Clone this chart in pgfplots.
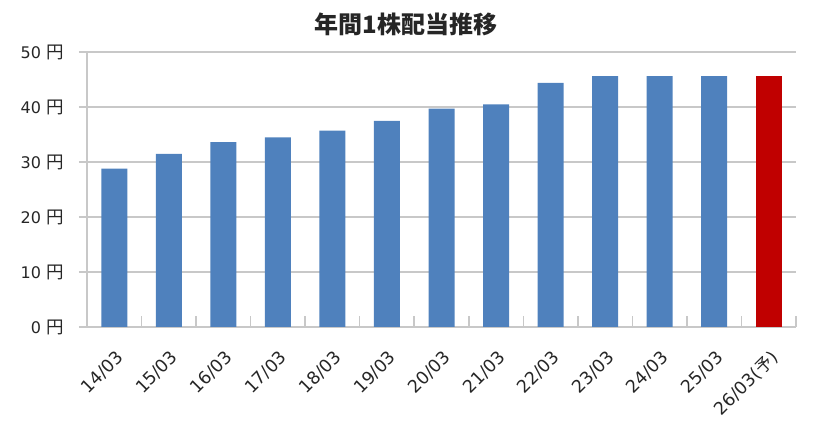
\documentclass[border=0pt]{standalone}
\usepackage{fontspec}
\setmainfont{DejaVu Sans}
\newfontfamily\cjk{Noto Sans CJK JP}
\usepackage{pgfplots}
\pgfplotsset{compat=1.18}
\definecolor{barblue}{HTML}{4F81BD}
\definecolor{barred}{HTML}{C00000}
\definecolor{gridgray}{HTML}{C8C8C8}
\definecolor{txt}{HTML}{262626}
\newcommand{\yen}{\hspace{6pt}{\cjk\fontsize{17.5}{17.5}\selectfont 円}}
\begin{document}
\begin{tikzpicture}
\path[use as bounding box] (-87pt,-106pt) rectangle (730pt,327pt);
\begin{axis}[
  scale only axis, width=709pt, height=275pt,
  xmin=-0.5, xmax=12.5, ymin=0, ymax=50,
  axis x line*=bottom, axis y line*=left,
  axis line style={draw=gridgray, line width=1.5pt, -},
  ybar, bar width=26pt,
  tick align=outside,
  xtick={0,...,12},
  xticklabels={14/03,15/03,16/03,17/03,18/03,19/03,20/03,21/03,22/03,23/03,24/03,25/03,26/03({\cjk\fontsize{17}{17}\selectfont 予})},
  major x tick style={draw=none},
  minor xtick={0.5,1.5,...,12.5},
  minor tick length=11pt,
  minor x tick style={draw=gridgray, line width=1.5pt, yshift=11pt},
  ytick={0,10,...,50},
  yticklabels={0\yen,10\yen,20\yen,30\yen,40\yen,50\yen},
  major tick length=8pt,
  y tick style={draw=gridgray, line width=1.5pt},
  ymajorgrids, grid style={draw=gridgray, line width=1.5pt},
  x tick label style={rotate=45, anchor=north east, font=\fontsize{17.5}{17.5}\selectfont, text=txt, xshift=-6pt, yshift=-7pt},
  y tick label style={font=\fontsize{16}{16}\selectfont, text=txt, xshift=-11pt},
]
\addplot[fill=barblue, draw=none, bar shift=0pt] coordinates {
  (0,28.8) (1,31.5) (2,33.6) (3,34.5) (4,35.7) (5,37.5) (6,39.7)
  (7,40.5) (8,44.4) (9,45.6) (10,45.6) (11,45.6)};
\addplot[fill=barred, draw=none, bar shift=0pt] coordinates {(12,45.6)};
\end{axis}
\node[text=txt, font=\cjk\bfseries\fontsize{24}{24}\selectfont] at (319pt,303pt) {年間1株配当推移};
\end{tikzpicture}
\end{document}
